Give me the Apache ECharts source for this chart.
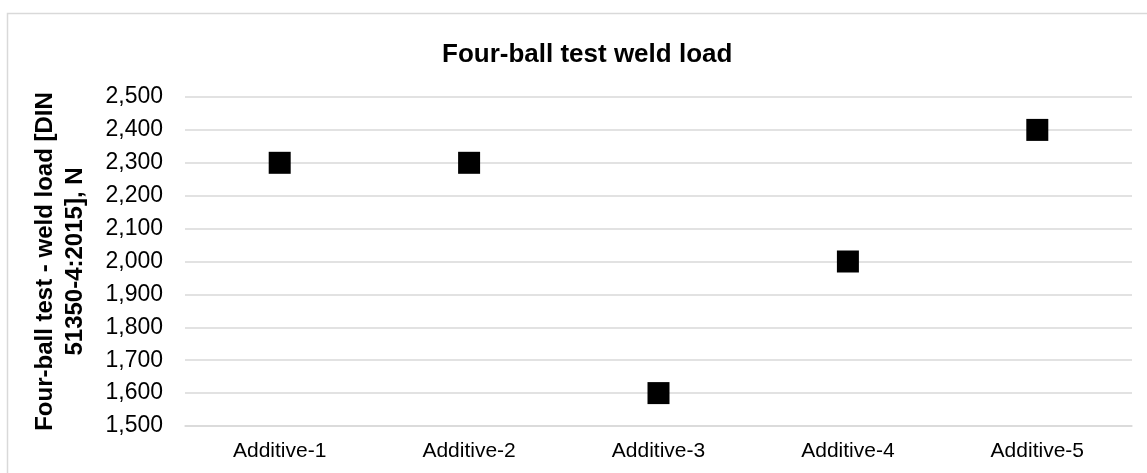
<!DOCTYPE html>
<html>
<head>
<meta charset="utf-8">
<script src="https://cdn.jsdelivr.net/npm/echarts@6/dist/echarts.min.js"></script>
<style>
  html, body { margin: 0; padding: 0; background: #fff; }
  #chart { width: 1147px; height: 473px; }
</style>
</head>
<body>
<div id="chart"></div>
<script>
// data
const categories = ['Additive-1', 'Additive-2', 'Additive-3', 'Additive-4', 'Additive-5']
const weldLoad = [2300, 2300, 1600, 2000, 2400]

const chart = echarts.init(document.getElementById('chart'))
const font = '"Liberation Sans", Arial, sans-serif'

chart.setOption({
  animation: false,
  textStyle: { fontFamily: font },
  graphic: [{
    type: 'rect',
    shape: { x: 7.5, y: 13.5, width: 1160, height: 480 },
    style: { fill: 'none', stroke: '#d9d9d9', lineWidth: 1.5 }
  }],
  title: {
    text: 'Four-ball test weld load',
    left: 437,
    top: 37,
    textStyle: { fontSize: 26, fontWeight: 'bold', color: '#000', fontFamily: font }
  },
  grid: { left: 185, right: 15, top: 97, bottom: 47 },
  xAxis: {
    type: 'category',
    data: categories,
    axisLine: { show: true, lineStyle: { color: '#d9d9d9', width: 1.5 } },
    axisTick: { show: false },
    axisLabel: { color: '#000', fontSize: 21, margin: 15, fontFamily: font }
  },
  yAxis: {
    type: 'value',
    min: 1500,
    max: 2500,
    interval: 100,
    name: 'Four-ball test - weld load [DIN\n51350-4:2015], N',
    nameLocation: 'middle',
    nameGap: 95,
    nameTextStyle: { fontSize: 24, fontWeight: 'bold', color: '#000', lineHeight: 30, fontFamily: font },
    axisLine: { show: false },
    axisTick: { show: false },
    axisLabel: {
      color: '#000',
      fontSize: 23,
      margin: 22,
      fontFamily: font,
      formatter: v => v.toLocaleString('en-US')
    },
    splitLine: { lineStyle: { color: '#d9d9d9', width: 1.5 } }
  },
  series: [{
    type: 'scatter',
    data: weldLoad,
    symbol: 'rect',
    symbolSize: 22,
    itemStyle: { color: '#000', opacity: 1 }
  }]
})
</script>
</body>
</html>
